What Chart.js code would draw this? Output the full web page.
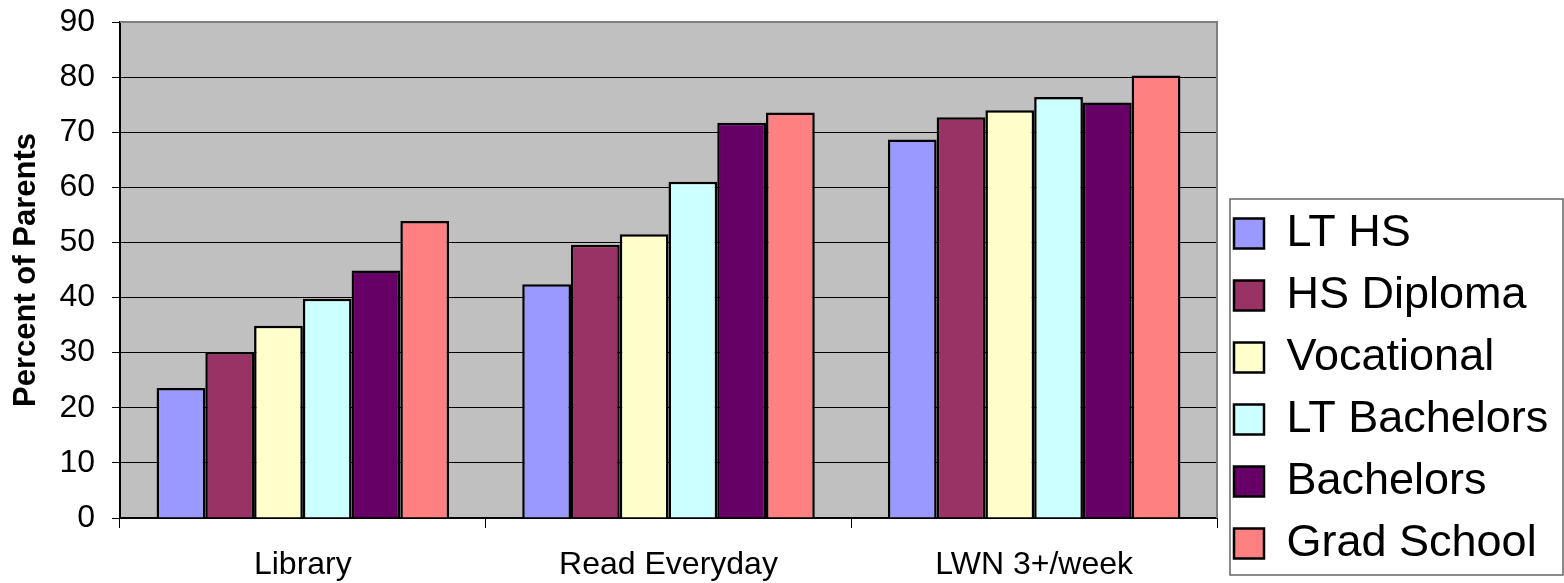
<!DOCTYPE html>
<html>
<head>
<meta charset="utf-8">
<script src="https://cdn.jsdelivr.net/npm/chart.js@4/dist/chart.umd.min.js"></script>
<style>
  body { margin: 0; background: #fff; }
  #wrap { width: 1564px; height: 583px; }
</style>
</head>
<body>
<div id="wrap"><canvas id="parentsChart"></canvas></div>
<script>
// Categories on the x axis
const categories = ["Library", "Read Everyday", "LWN 3+/week"];

// One array per education level (percent of parents)
const ltHS = [23.6, 42.4, 68.7];
const hsDiploma = [30.1, 49.6, 72.7];
const vocational = [34.9, 51.5, 74.0];
const ltBachelors = [39.8, 61.0, 76.4];
const bachelors = [44.9, 71.7, 75.4];
const gradSchool = [53.9, 73.6, 80.3];

const seriesNames = ["LT HS", "HS Diploma", "Vocational", "LT Bachelors", "Bachelors", "Grad School"];
const seriesValues = [ltHS, hsDiploma, vocational, ltBachelors, bachelors, gradSchool];
const seriesColors = ["#9999FF", "#993366", "#FFFFCC", "#CCFFFF", "#660066", "#FF8080"];

const yTicks = [0, 10, 20, 30, 40, 50, 60, 70, 80, 90];

const fontFamily = "'Liberation Sans', Arial, sans-serif";

// Grey plot background, plus grey frame on top/right like the original
const plotArea = {
    id: "plotArea",
    beforeDraw(chart) {
        const { ctx, chartArea: a } = chart;
        ctx.save();
        ctx.fillStyle = "#C0C0C0";
        ctx.fillRect(a.left, a.top, a.right - a.left, a.bottom - a.top);
        ctx.restore();
    },
    afterDatasetsDraw(chart) {
        const { ctx, chartArea: a } = chart;
        ctx.save();
        ctx.strokeStyle = "#808080";
        ctx.lineWidth = 2;
        ctx.beginPath();
        ctx.moveTo(a.left, a.top);
        ctx.lineTo(a.right, a.top);
        ctx.lineTo(a.right, a.bottom);
        ctx.stroke();
        ctx.restore();
    }
};

// Make the legend column a bit wider so the plot ends where the original does
const legendWidth = {
    id: "legendWidth",
    beforeLayout(chart) {
        const lg = chart.legend;
        if (!lg || lg._widened) return;
        const fit = lg.fit;
        lg.fit = function () {
            fit.call(this);
            this.width = 347;
        };
        lg._widened = true;
    }
};

// Frame around the legend
const legendFrame = {
    id: "legendFrame",
    afterDraw(chart) {
        const lg = chart.legend;
        if (!lg || !lg.legendHitBoxes.length) return;
        const boxes = lg.legendHitBoxes;
        const first = boxes[0];
        const last = boxes[boxes.length - 1];
        const { ctx } = chart;
        ctx.save();
        ctx.strokeStyle = "#666";
        ctx.lineWidth = 1.5;
        const x = first.left - 4;
        const y = first.top - 12;
        ctx.strokeRect(x, y, chart.width - 1 - x, last.top + last.height + 9 - y);
        ctx.restore();
    }
};

new Chart(document.getElementById("parentsChart"), {
    type: "bar",
    data: {
        labels: categories,
        datasets: seriesNames.map((name, i) => ({
            label: name,
            data: seriesValues[i],
            backgroundColor: seriesColors[i],
            borderColor: "#000",
            borderWidth: 2.5,
            categoryPercentage: 0.8,
            barPercentage: 1.0
        }))
    },
    options: {
        responsive: true,
        maintainAspectRatio: false,
        animation: false,
        layout: { padding: { left: 8, top: 0, right: 0, bottom: 0 } },
        plugins: {
            tooltip: { enabled: false },
            legend: {
                position: "right",
                align: "end",
                labels: {
                    color: "#000",
                    font: { family: fontFamily, size: 45 },
                    boxWidth: 30,
                    boxHeight: 30,
                    padding: 17
                }
            }
        },
        scales: {
            x: {
                grid: {
                    drawOnChartArea: false,
                    drawTicks: true,
                    tickLength: 10,
                    color: "#000",
                    offset: true
                },
                border: { color: "#000", width: 2 },
                ticks: {
                    color: "#000",
                    font: { family: fontFamily, size: 32 },
                    padding: 18,
                    maxRotation: 0
                },
                afterFit(scale) {
                    scale.height = 65;
                    scale.paddingLeft = 0;
                    scale.paddingRight = 0;
                }
            },
            y: {
                min: 0,
                max: 90,
                afterBuildTicks(axis) {
                    axis.ticks = yTicks.map(v => ({ value: v }));
                },
                grid: {
                    color: "#000",
                    lineWidth: 1,
                    tickLength: 8
                },
                border: { color: "#000", width: 2 },
                ticks: {
                    color: "#000",
                    font: { family: fontFamily, size: 32 },
                    padding: 17
                },
                title: {
                    display: true,
                    text: "Percent of Parents",
                    color: "#000",
                    font: { family: fontFamily, size: 31, weight: "bold" },
                    padding: { top: 0, bottom: 4 }
                },
                afterFit(scale) {
                    scale.width = 112;
                    scale.paddingTop = 22;
                    scale.paddingBottom = 0;
                }
            }
        }
    },
    plugins: [plotArea, legendWidth, legendFrame]
});
</script>
</body>
</html>
